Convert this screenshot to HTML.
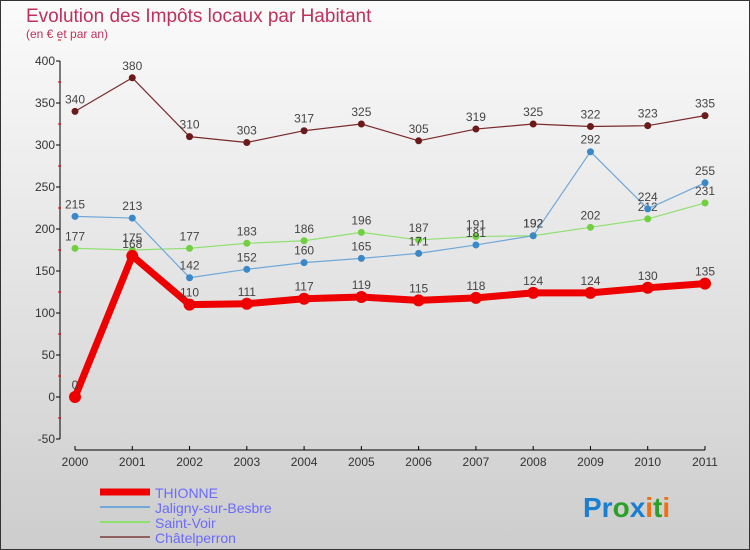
<!DOCTYPE html>
<html><head><meta charset="utf-8"><style>
body{margin:0}
#c{width:750px;height:550px;position:relative;overflow:hidden}
svg{display:block;font-family:"Liberation Sans","DejaVu Sans",sans-serif}
</style></head><body>
<div id="c">
<svg id="s" width="750" height="550" xmlns="http://www.w3.org/2000/svg">
<defs><linearGradient id="bg" x1="0" y1="0" x2="0" y2="1"><stop offset="0" stop-color="#fbfbfb"/><stop offset="1" stop-color="#cdcdcd"/></linearGradient></defs>
<rect x="0.5" y="0.5" width="749" height="549" fill="url(#bg)" stroke="#333"/>
<text x="26" y="22" font-size="19" fill="#c0305a">Evolution des Impôts locaux par Habitant</text>
<text x="26" y="38" font-size="12" fill="#c0305a">(en € et par an)</text>
<g id="axes"></g><g id="series"></g><g id="legend"></g>
<text x="583" y="517" font-size="28" font-weight="bold"><tspan fill="#1a7fd0">Pr</tspan><tspan fill="#2aa02a">o</tspan><tspan fill="#1a7fd0">x</tspan><tspan fill="#f07010">i</tspan><tspan fill="#2aa02a">t</tspan><tspan fill="#f07010">i</tspan></text>
</svg></div>
<script>
const years=[2000,2001,2002,2003,2004,2005,2006,2007,2008,2009,2010,2011];
const yTicks=[-50,0,50,100,150,200,250,300,350,400];
const thionne=[0,168,110,111,117,119,115,118,124,124,130,135];
const jaligny=[215,213,142,152,160,165,171,181,192,292,224,255];
const saintVoir=[177,175,177,183,186,196,187,191,192,202,212,231];
const chatel=[340,380,310,303,317,325,305,319,325,322,323,335];
const NS="http://www.w3.org/2000/svg";
const X=i=>75+i*(630/11);
const Y=v=>397-v*0.84;
function mk(t,a,p){const e=document.createElementNS(NS,t);for(const k in a)e.setAttribute(k,a[k]);p.appendChild(e);return e;}
const ax=document.getElementById('axes');
let l=mk('line',{x1:60,y1:61,x2:60,y2:439,stroke:'#000','stroke-width':1},ax);


yTicks.forEach(v=>{
  let t=mk('line',{x1:56,x2:60,y1:Y(v),y2:Y(v),stroke:'#000'},ax);
  
  
  let m=mk('line',{x1:58,x2:61,y1:Y(v+25),y2:Y(v+25),stroke:'#d00'},ax);
  
  
  let tx=mk('text',{x:55,y:Y(v)+4,'font-size':12,'text-anchor':'end',fill:'#333'},ax);
  tx.textContent=v;
  
  
});
l=mk('line',{x1:75,y1:450,x2:705,y2:450,stroke:'#000'},ax);


years.forEach((y,i)=>{
  let t=mk('line',{x1:X(i),x2:X(i),y1:446,y2:450,stroke:'#000'},ax);
  
  
  let tx=mk('text',{x:X(i),y:466,'font-size':12,'text-anchor':'middle',fill:'#333'},ax);
  tx.textContent=y;
  
  
});
const sg=document.getElementById('series');
function draw(vals,color,dot,w,r,name){
  const g=mk('g',{},sg);
  
  
  const p=mk('polyline',{points:vals.map((v,i)=>X(i)+','+Y(v)).join(' '),fill:'none',stroke:color,'stroke-width':w,'stroke-linejoin':'round'},g);
  
  
  vals.forEach((v,i)=>{
    const c=mk('circle',{cx:X(i),cy:Y(v),r:r,fill:dot},g);
    
    
    const t=mk('text',{x:X(i),y:Y(v)-8,'font-size':12,'text-anchor':'middle',fill:'#444'},g);
    t.textContent=v;
    
    
  });
}
draw(chatel,'#7a2a2a','#6a1a1a',1.2,3.5,'chatelperron');
draw(saintVoir,'#90e070','#70d040',1.2,3.5,'saint-voir');
draw(jaligny,'#70a8d8','#3a88c8',1.2,3.5,'jaligny');
draw(thionne,'#ee0000','#ee0000',7,6,'thionne');
const lg=document.getElementById('legend');
const items=[['THIONNE','#ee0000',7],['Jaligny-sur-Besbre','#70a8d8',2],['Saint-Voir','#90e070',2],['Châtelperron','#906060',2]];
items.forEach((it,k)=>{
  const y=492+k*15;
  const ln=mk('line',{x1:100,x2:150,y1:y,y2:y,stroke:it[1],'stroke-width':it[2]},lg);
  
  
  const t=mk('text',{x:155,y:y+6,'font-size':14,fill:'#6a6aff'},lg);
  t.textContent=it[0];
  
  
});
</script>
</body></html>
